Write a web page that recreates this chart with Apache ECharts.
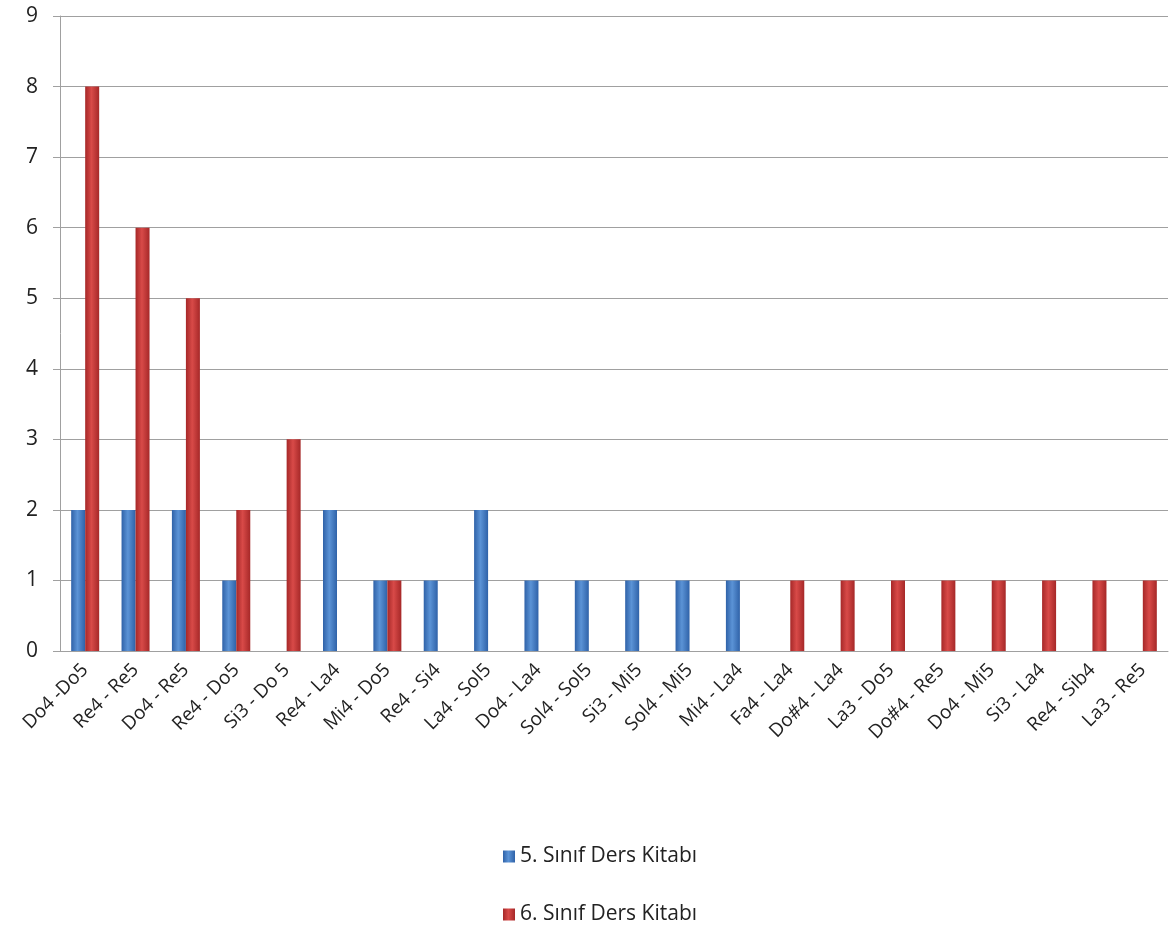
<!DOCTYPE html>
<html>
<head>
<meta charset="utf-8">
<script src="https://cdn.jsdelivr.net/npm/echarts@6/dist/echarts.min.js"></script>
<style>html,body{margin:0;padding:0;background:#fff;}#c{width:1170px;height:941px;}</style>
</head>
<body>
<div id="c"></div>
<script>
const categories = ["Do4 -Do5","Re4 - Re5","Do4 - Re5","Re4 - Do5","Si3 - Do 5","Re4 - La4","Mi4 - Do5","Re4 - Si4","La4 - Sol5","Do4 - La4","Sol4 - Sol5","Si3 - Mi5","Sol4 - Mi5","Mi4 - La4","Fa4 - La4","Do#4 - La4","La3 - Do5","Do#4 - Re5","Do4 - Mi5","Si3 - La4","Re4 - Sib4","La3 - Re5"];
const series5 = [2,2,2,1,0,2,1,1,2,1,1,1,1,1,0,0,0,0,0,0,0,0];
const series6 = [8,6,5,2,3,0,1,0,0,0,0,0,0,0,1,1,1,1,1,1,1,1];
const seriesNames = ["5. Sınıf Ders Kitabı","6. Sınıf Ders Kitabı"];

const font = "Open Sans";
function grad(edge, mid){
  return new echarts.graphic.LinearGradient(0,0,1,0,[
    {offset:0,color:edge},{offset:0.45,color:mid},{offset:1,color:edge}
  ]);
}
const chart = echarts.init(document.getElementById('c'));
chart.setOption({
  animation:false,
  textStyle:{fontFamily:font},
  grid:{left:60,right:2,top:16,bottom:290},
  legend:{
    orient:'vertical', left:498, top:841, itemGap:37,
    icon:'rect', itemWidth:12, itemHeight:12,
    textStyle:{fontFamily:font,fontSize:21,color:'#222'},
    data:seriesNames
  },
  xAxis:{
    type:'category', data:categories,
    axisLine:{lineStyle:{color:'#a0a0a0'}},
    axisTick:{show:false},
    axisLabel:{rotate:45,interval:0,fontSize:19,color:'#222',margin:16,fontFamily:font}
  },
  yAxis:{
    type:'value', min:0, max:9, interval:1,
    axisLine:{show:true,lineStyle:{color:'#a0a0a0'}},
    axisTick:{show:true,length:7,lineStyle:{color:'#a0a0a0'}},
    splitLine:{lineStyle:{color:'#a0a0a0'}},
    axisLabel:{fontSize:21,color:'#222',margin:22,fontFamily:font}
  },
  series:[
    {name:seriesNames[0],type:'bar',data:series5,barWidth:14,barGap:'0%',
     itemStyle:{color:grad('#2f62a8','#5b93d6')}},
    {name:seriesNames[1],type:'bar',data:series6,barWidth:14,
     itemStyle:{color:grad('#a62828','#d84a48')}}
  ]
});
</script>
</body>
</html>
